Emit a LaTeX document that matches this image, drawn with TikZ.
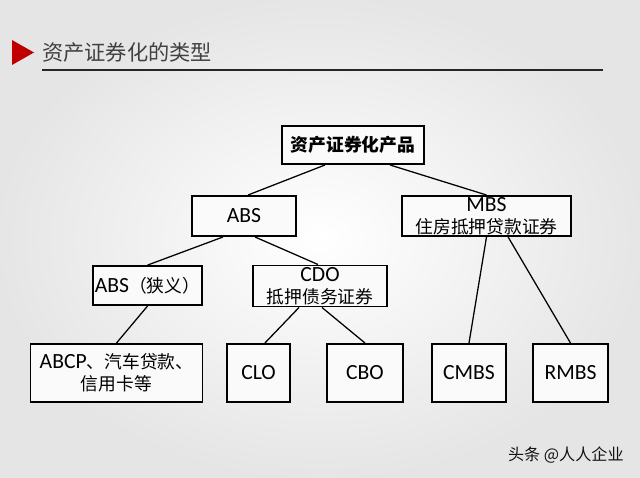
\documentclass[tikz,border=0pt]{standalone}
\usepackage{fontspec}
\setmainfont{Carlito}
\newfontfamily\cjk[Scale=0.82]{Noto Sans CJK SC}
\definecolor{titlered}{RGB}{192,0,0}
\definecolor{titlegray}{RGB}{64,64,64}

\begin{document}
\begin{tikzpicture}[
    box/.style={draw=black, fill=gray!4, line width=1.4pt, inner sep=0pt, align=center,
        font=\fontsize{15.4}{15.6}\selectfont},
    link/.style={draw=black, line width=0.9pt}
]
    % Page background
    \useasboundingbox (0,0) rectangle (16,-11.925);
    \shade[inner color=white, outer color=gray!20] (0,0) rectangle (16,-11.925);

    % Title bar
    \fill[titlered] (0.3,-1.0) -- (0.85,-1.3125) -- (0.3,-1.625) -- cycle;
    \node[anchor=west, inner sep=0pt, text=titlegray, font=\fontsize{18.4}{20}\selectfont] (title) at (1.05,-1.3) {\cjk 资产证券化的类型};
    \coordinate (rulestart) at (1.05,-1.75);
    \coordinate (ruleend) at (15.075,-1.75);
    \draw[line width=1.1pt, gray!30!black] (rulestart) -- (ruleend);

    % Draw nodes
    \node[box, minimum width=3.55cm, minimum height=0.95cm] (root) at (8.825,-3.625) {\cjk\bfseries 资产证券化产品};
    \node[box, minimum width=2.6cm, minimum height=1.0cm] (abs) at (6.1,-5.4) {ABS};
    \node[box, minimum width=4.225cm, minimum height=1.0cm] (mbs) at (12.1625,-5.4) {MBS\\{\cjk 住房抵押贷款证券}};
    \node[box, minimum width=2.725cm, minimum height=0.975cm] (absn) at (3.6875,-7.14) {ABS{\cjk （狭义）}};
    \node[box, minimum width=3.35cm, minimum height=1.025cm] (cdo) at (8.0,-7.15) {CDO\\{\cjk 抵押债务证券}};
    \node[box, minimum width=4.3cm, minimum height=1.45cm] (abcp) at (2.9125,-9.325) {ABCP{\cjk 、汽车贷款、}\\{\cjk 信用卡等}};
    \node[box, minimum width=1.575cm, minimum height=1.45cm] (clo) at (6.4625,-9.325) {CLO};
    \node[box, minimum width=1.9cm, minimum height=1.45cm] (cbo) at (9.125,-9.325) {CBO};
    \node[box, minimum width=1.85cm, minimum height=1.45cm] (cmbs) at (11.725,-9.325) {CMBS};
    \node[box, minimum width=1.875cm, minimum height=1.45cm] (rmbs) at (14.2625,-9.325) {RMBS};

    % Draw edges
    \draw[link] ([xshift=-0.7cm]root.south) -- ([xshift=0.1cm]abs.north);
    \draw[link] ([xshift=0.925cm]root.south) -- (mbs.north);
    \draw[link] ([xshift=-0.525cm]abs.south) -- (absn.north);
    \draw[link] ([xshift=0.275cm]abs.south) -- ([xshift=-0.05cm]cdo.north);
    \draw[link] (absn.south) -- (abcp.north);
    \draw[link] ([xshift=-0.525cm]cdo.south) -- ([xshift=0.16cm]clo.north);
    \draw[link] ([xshift=0.05cm]cdo.south) -- (cbo.north);
    \draw[link] (mbs.south) -- (cmbs.north);
    \draw[link] ([xshift=0.54cm]mbs.south) -- (rmbs.north);

    % Watermark
    \node[anchor=east, inner sep=0pt, text=gray!15!black, font=\fontsize{14}{15}\selectfont] (mark) at (15.6,-11.375) {\cjk 头条 @人人企业};
\end{tikzpicture}
\end{document}
